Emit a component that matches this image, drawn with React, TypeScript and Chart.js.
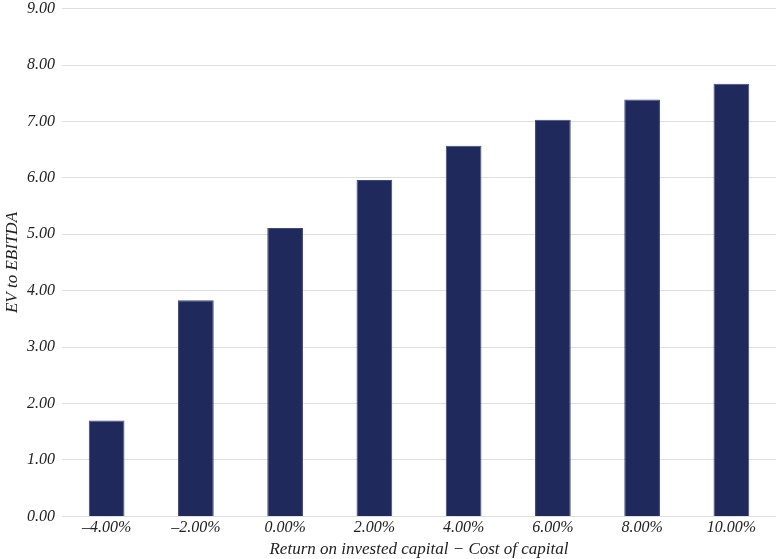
import React, { useEffect, useRef } from 'react';
import { Chart, registerables } from 'chart.js';

Chart.register(...registerables);

const categories = ['–4.00%', '–2.00%', '0.00%', '2.00%', '4.00%', '6.00%', '8.00%', '10.00%'];
const evToEbitda = [1.70, 3.83, 5.11, 5.96, 6.57, 7.03, 7.39, 7.67];
const yTicks = [0, 1, 2, 3, 4, 5, 6, 7, 8, 9];

const FONT = "'Liberation Serif', 'DejaVu Serif', serif";

const App = () => {
    const chartRef = useRef<HTMLCanvasElement>(null);
    const chartInstance = useRef<Chart | null>(null);

    useEffect(() => {
        document.body.style.margin = '0';
        if (!chartRef.current) return;
        const ctx = chartRef.current.getContext('2d');
        if (!ctx) return;
        if (chartInstance.current) chartInstance.current.destroy();

        chartInstance.current = new Chart(ctx, {
            type: 'bar',
            data: {
                labels: categories,
                datasets: [
                    {
                        label: 'EV to EBITDA',
                        data: evToEbitda,
                        backgroundColor: '#1f295b',
                        borderColor: '#3b4a82',
                        borderWidth: 1,
                        categoryPercentage: 0.8,
                        barPercentage: 0.5
                    }
                ]
            },
            options: {
                animation: false,
                responsive: true,
                maintainAspectRatio: false,
                layout: { padding: { top: 0, right: 6, bottom: 0, left: 0 } },
                plugins: {
                    legend: { display: false },
                    tooltip: { enabled: false }
                },
                scales: {
                    y: {
                        min: 0,
                        max: 9,
                        afterBuildTicks: (axis) => {
                            axis.ticks = yTicks.map((v) => ({ value: v }));
                        },
                        afterFit: (axis) => {
                            axis.width = 62;
                        },
                        ticks: {
                            callback: (v) => Number(v).toFixed(2),
                            color: '#222',
                            padding: 7,
                            font: { family: FONT, size: 16, style: 'italic' }
                        },
                        grid: { color: '#dedede', lineWidth: 1, drawTicks: false },
                        border: { display: false },
                        title: {
                            display: true,
                            text: 'EV to EBITDA',
                            color: '#222',
                            padding: { top: 2, bottom: 0 },
                            font: { family: FONT, size: 17, style: 'italic' }
                        }
                    },
                    x: {
                        grid: { display: false, drawTicks: false },
                        border: { display: false },
                        ticks: {
                            color: '#222',
                            padding: 2,
                            maxRotation: 0,
                            font: { family: FONT, size: 16, style: 'italic' }
                        },
                        title: {
                            display: true,
                            text: 'Return on invested capital − Cost of capital',
                            color: '#222',
                            padding: { top: 0, bottom: 0 },
                            font: { family: FONT, size: 17, style: 'italic' }
                        }
                    }
                }
            }
        });

        return () => {
            if (chartInstance.current) {
                chartInstance.current.destroy();
                chartInstance.current = null;
            }
        };
    }, []);

    return (
        <div style={{ position: 'relative', width: 782, height: 559, overflow: 'hidden', background: '#fff' }}>
            <div style={{ position: 'absolute', left: 0, top: -8, width: 782, height: 568 }}>
                <canvas ref={chartRef}></canvas>
            </div>
        </div>
    );
};

export default App;
